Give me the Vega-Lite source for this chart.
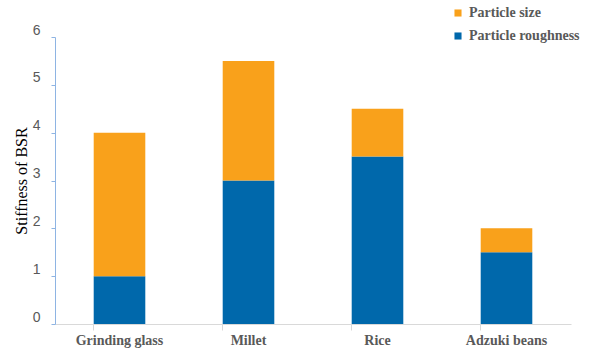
{
  "$schema": "https://vega.github.io/schema/vega-lite/v6.json",
  "width": 516,
  "height": 287,
  "autosize": {"type": "none"},
  "padding": {"left": 55, "top": 37, "right": 21, "bottom": 27},
  "background": "white",
  "config": {"view": {"stroke": null}},
  "data": {
    "values": [
      {"material": "Grinding glass", "factor": "Particle roughness", "stiffness": 1.0, "order": 1},
      {"material": "Grinding glass", "factor": "Particle size", "stiffness": 3.0, "order": 2},
      {"material": "Millet", "factor": "Particle roughness", "stiffness": 3.0, "order": 1},
      {"material": "Millet", "factor": "Particle size", "stiffness": 2.5, "order": 2},
      {"material": "Rice", "factor": "Particle roughness", "stiffness": 3.5, "order": 1},
      {"material": "Rice", "factor": "Particle size", "stiffness": 1.0, "order": 2},
      {"material": "Adzuki beans", "factor": "Particle roughness", "stiffness": 1.5, "order": 1},
      {"material": "Adzuki beans", "factor": "Particle size", "stiffness": 0.5, "order": 2}
    ]
  },
  "mark": {"type": "bar"},
  "encoding": {
    "x": {
      "field": "material",
      "type": "nominal",
      "sort": ["Grinding glass", "Millet", "Rice", "Adzuki beans"],
      "scale": {"paddingInner": 0.6, "paddingOuter": 0.3},
      "axis": {
        "title": null,
        "labelAngle": 0,
        "labelFont": "Liberation Serif",
        "labelFontWeight": "bold",
        "labelFontSize": 14,
        "labelColor": "#595959",
        "labelPadding": 3,
        "domainColor": "#d9d9d9",
        "tickColor": "#d9d9d9",
        "tickSize": 6,
        "bandPosition": 0
      }
    },
    "y": {
      "field": "stiffness",
      "type": "quantitative",
      "aggregate": "sum",
      "stack": "zero",
      "scale": {"domain": [0, 6]},
      "axis": {
        "title": "Stiffness of BSR",
        "titleFont": "Liberation Serif, serif",
        "titleFontSize": 16,
        "titleFontWeight": "normal",
        "titleColor": "#000000",
        "titlePadding": 3,
        "values": [0, 1, 2, 3, 4, 5, 6],
        "grid": false,
        "labelFont": "Liberation Sans",
        "labelFontSize": 14,
        "labelColor": "#595959",
        "labelPadding": 11,
        "labelOffset": -7,
        "domainColor": "#8eb4e3",
        "tickColor": "#8eb4e3",
        "tickSize": 4
      }
    },
    "color": {
      "field": "factor",
      "type": "nominal",
      "scale": {
        "domain": ["Particle size", "Particle roughness"],
        "range": ["#f9a11b", "#0068ab"]
      },
      "legend": {
        "title": null,
        "orient": "none",
        "legendX": 396,
        "legendY": -31,
        "symbolType": "square",
        "symbolSize": 50,
        "symbolStrokeWidth": 0,
        "labelFont": "Liberation Serif",
        "labelFontWeight": "bold",
        "labelFontSize": 14,
        "labelColor": "#595959",
        "labelOffset": 4,
        "rowPadding": 9
      }
    },
    "order": {"field": "order", "type": "quantitative"}
  }
}
